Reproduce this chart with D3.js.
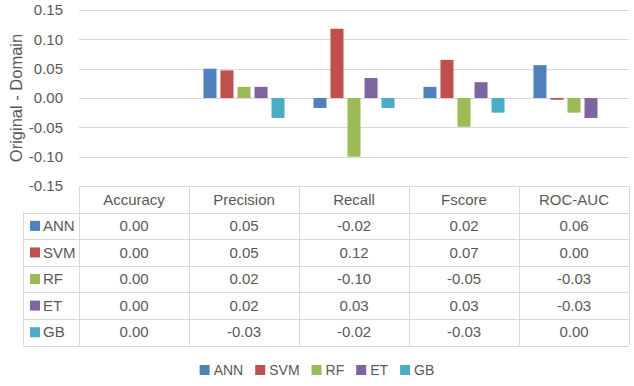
<!DOCTYPE html>
<html><head><meta charset="utf-8">
<script src="https://cdn.jsdelivr.net/npm/d3@7"></script>
<style>body{margin:0;background:#fff}svg{display:block}text{font-family:"Liberation Sans",Arial,sans-serif;fill:#595959}</style>
</head><body>
<svg id="c" width="634" height="386"></svg>
<script>
const categories = ["Accuracy","Precision","Recall","Fscore","ROC-AUC"];
const seriesNames = ["ANN","SVM","RF","ET","GB"];
const colors = ["#4F81BD","#C0504D","#9BBB59","#8064A2","#4BACC6"];
// bar values
const ANN = [0, 0.050, -0.017, 0.019, 0.056];
const SVM = [0, 0.047, 0.118, 0.065, -0.003];
const RF  = [0, 0.019, -0.100, -0.049, -0.025];
const ET  = [0, 0.019, 0.034, 0.027, -0.034];
const GB  = [0, -0.034, -0.017, -0.025, 0.000];
// table labels as printed
const tANN = ["0.00","0.05","-0.02","0.02","0.06"];
const tSVM = ["0.00","0.05","0.12","0.07","0.00"];
const tRF  = ["0.00","0.02","-0.10","-0.05","-0.03"];
const tET  = ["0.00","0.02","0.03","0.03","-0.03"];
const tGB  = ["0.00","-0.03","-0.02","-0.03","0.00"];
const yTicks = [-0.15,-0.10,-0.05,0,0.05,0.10,0.15];

const values = [ANN,SVM,RF,ET,GB];
const tableText = [tANN,tSVM,tRF,tET,tGB];

const svg = d3.select("#c");
const L = 79, R = 629, T = 10, B = 186;
const x0 = d3.scaleBand().domain(categories).range([L,R]);
const x1 = d3.scaleBand().domain(seriesNames).range([0,x0.bandwidth()]).paddingInner(0.235).paddingOuter(0.85);
const y = d3.scaleLinear().domain([-0.15,0.15]).range([B,T]);
const grid = "#d9d9d9";
const fmt = d => d3.format(".2f")(d).replace("\u2212","-");

// gridlines
svg.append("g").selectAll("line").data(yTicks).join("line")
  .attr("x1",L).attr("x2",R).attr("y1",d=>Math.round(y(d))+0.5).attr("y2",d=>Math.round(y(d))+0.5)
  .attr("stroke",grid).attr("stroke-width",1);
// tick labels
svg.append("g").selectAll("text").data(yTicks).join("text")
  .attr("x",63).attr("y",d=>y(d)).attr("dy","0.35em").attr("text-anchor","end")
  .style("font-size","15px").text(fmt);
// axis title
svg.append("text").attr("transform","translate(16,98) rotate(-90)").attr("text-anchor","middle")
  .attr("dy","0.35em").style("font-size","16.5px").text("Original - Domain");

// bars
seriesNames.forEach((s,i)=>{
  svg.append("g").selectAll("rect").data(categories.map((c,j)=>({c,v:values[i][j]}))).join("rect")
    .attr("x",d=>x0(d.c)+x1(s)).attr("width",x1.bandwidth())
    .attr("y",d=>y(Math.max(0,d.v))).attr("height",d=>Math.abs(y(d.v)-y(0)))
    .attr("fill",colors[i]);
});

// table
const rows = d3.scaleBand().domain(["head",...seriesNames]).range([186,345.5]);
const TL = 23;
const tg = svg.append("g");
const ln = (x1_,y1_,x2_,y2_)=>tg.append("line").attr("x1",x1_).attr("y1",y1_).attr("x2",x2_).attr("y2",y2_).attr("stroke",grid).attr("stroke-width",1);
["head",...seriesNames].forEach((r,k)=>{
  const yy = Math.round(rows(r))+0.5;
  ln(k===0?L:TL,yy,R,yy);
});
ln(TL,Math.round(rows.range()[1])+0.5,R,Math.round(rows.range()[1])+0.5);
categories.forEach(c=>ln(Math.round(x0(c))+0.5,186,Math.round(x0(c))+0.5,345.5));
ln(R+0.5,186,R+0.5,345.5);
ln(TL+0.5,rows(seriesNames[0]),TL+0.5,345.5);
tg.selectAll("text.h").data(categories).join("text").attr("class","h")
  .attr("x",d=>x0(d)+x0.bandwidth()/2).attr("y",rows("head")+rows.bandwidth()/2).attr("dy","0.35em")
  .attr("text-anchor","middle").style("font-size","15px").text(d=>d);
seriesNames.forEach((s,i)=>{
  const cy = rows(s)+rows.bandwidth()/2;
  tg.append("rect").attr("x",30).attr("y",cy-5).attr("width",10).attr("height",10).attr("fill",colors[i]);
  tg.append("text").attr("x",43).attr("y",cy).attr("dy","0.35em").style("font-size","15px").text(s);
  tg.selectAll(null).data(categories.map((c,j)=>({c,t:tableText[i][j]}))).join("text")
    .attr("x",d=>x0(d.c)+x0.bandwidth()/2).attr("y",cy).attr("dy","0.35em")
    .attr("text-anchor","middle").style("font-size","15px").text(d=>d.t);
});

// legend
const lg = svg.append("g");
const items = seriesNames.map((s,i)=>{
  const g = lg.append("g");
  g.append("rect").attr("width",10).attr("height",10).attr("y",-5).attr("fill",colors[i]);
  const t = g.append("text").attr("x",14).attr("dy","0.35em").style("font-size","14px").text(s);
  return {g,w:14+t.node().getComputedTextLength()};
});
const gap = 12;
const total = d3.sum(items,d=>d.w)+gap*(items.length-1);
let xx = 317-total/2;
items.forEach(it=>{it.g.attr("transform",`translate(${xx},370)`); xx+=it.w+gap;});
</script>
</body></html>
